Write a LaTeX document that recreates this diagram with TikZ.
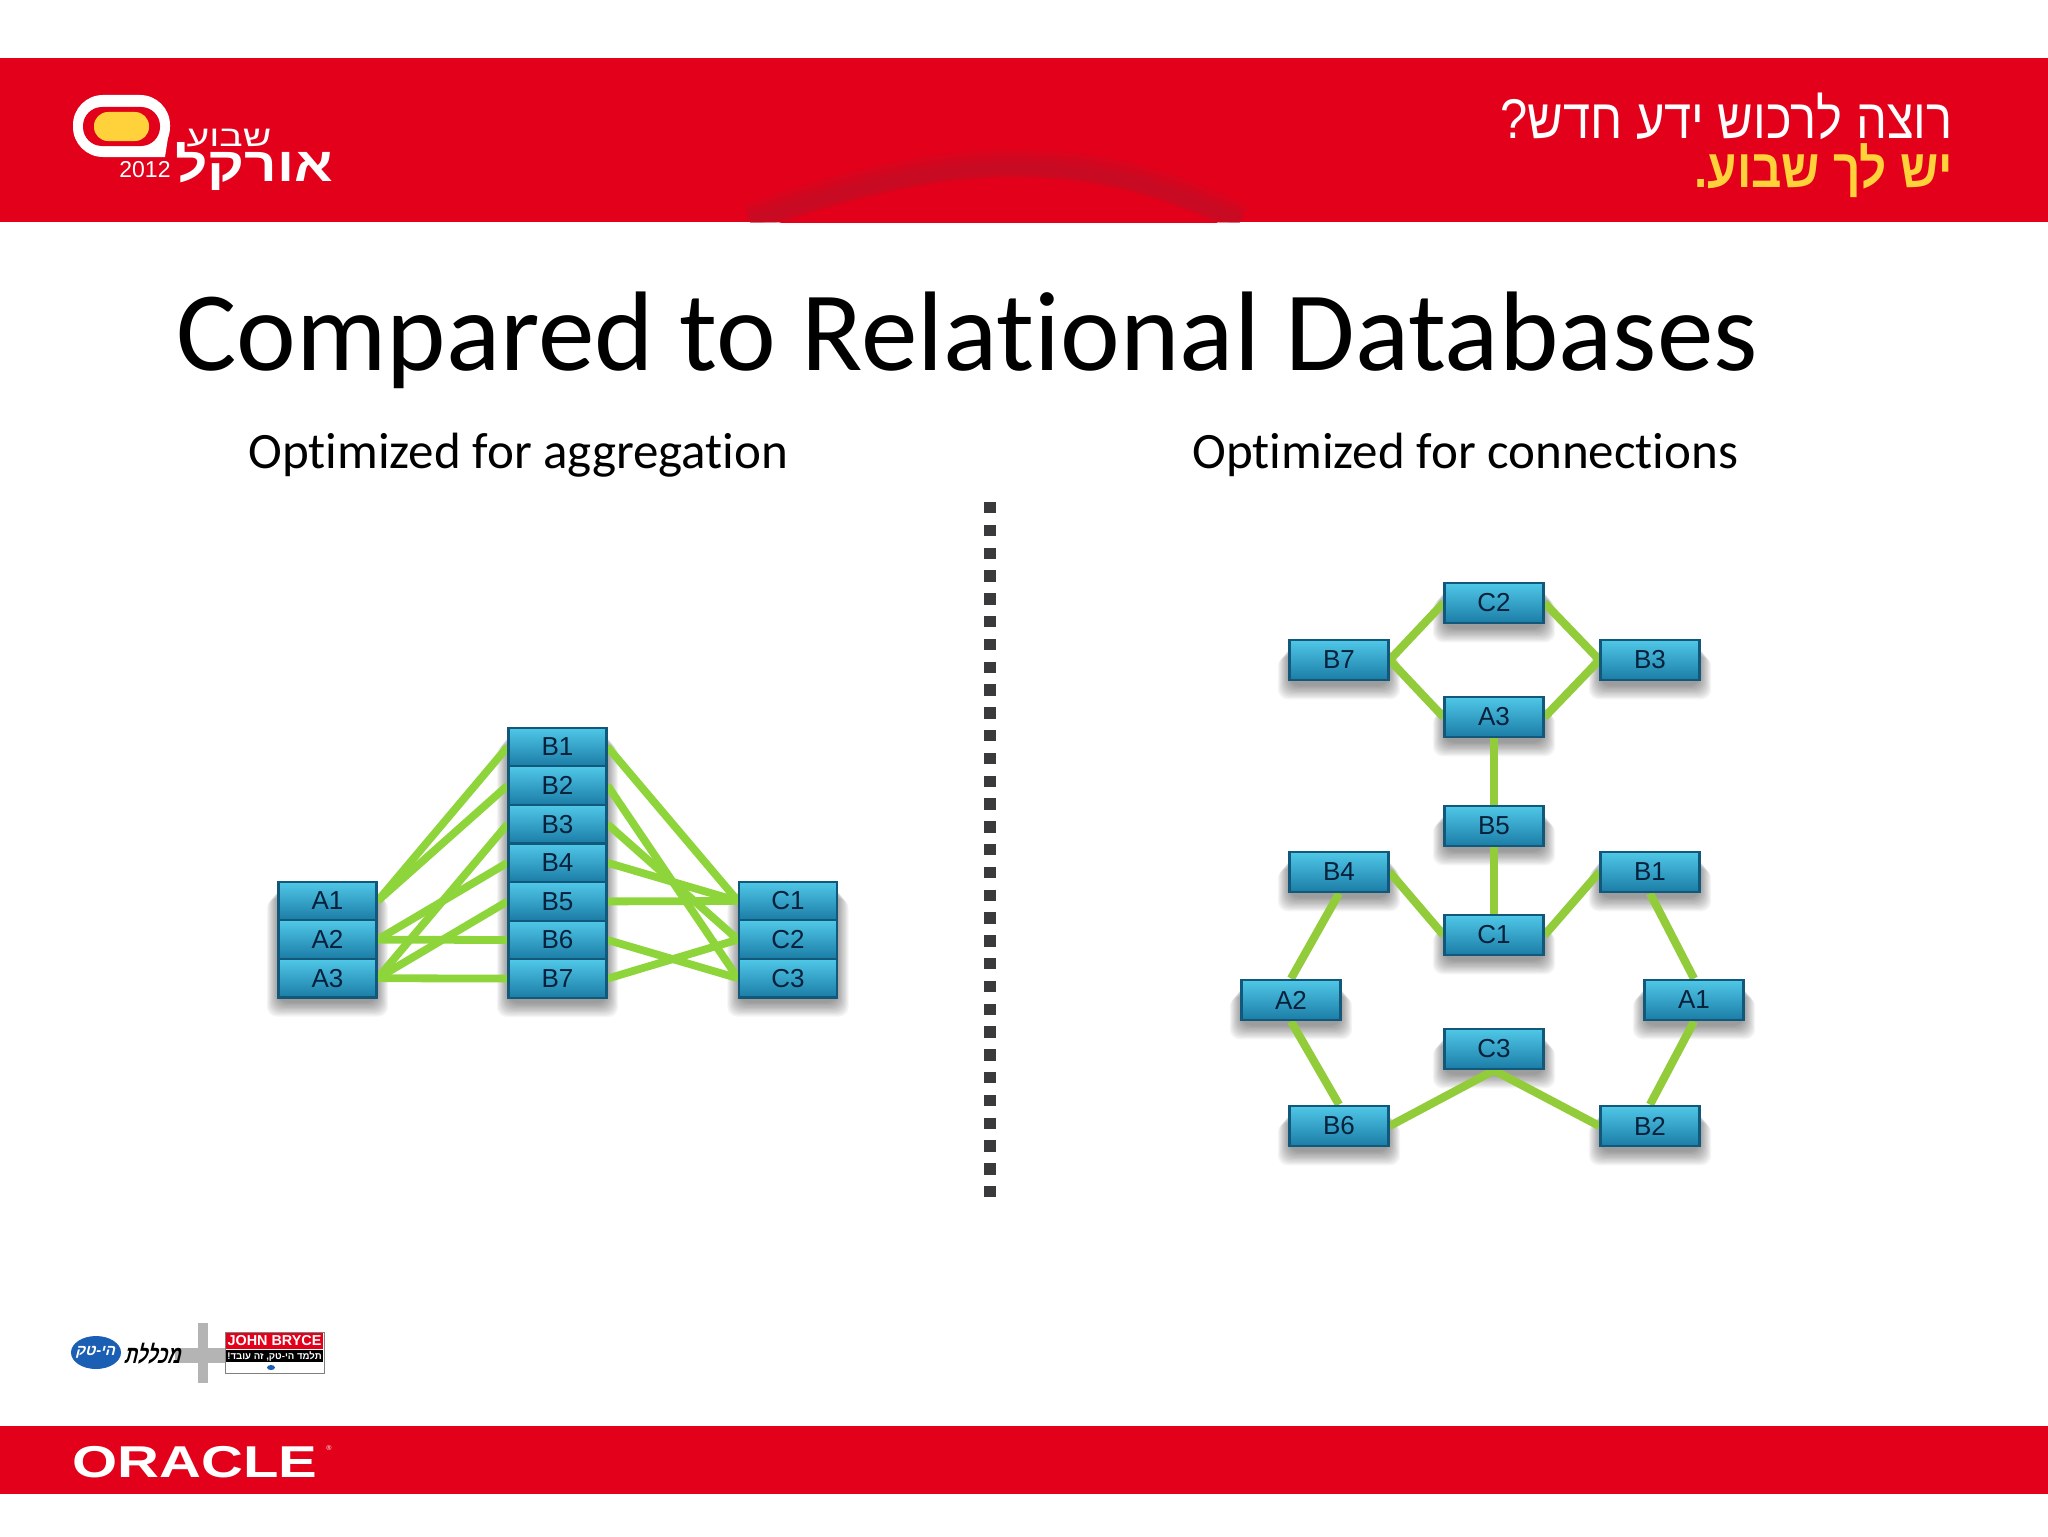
\documentclass[tikz,border=0pt]{standalone}
\usepackage{fontspec}
\setmainfont{Carlito}[Ligatures=NoCommon]
\newfontfamily\arial{Liberation Sans}
\newfontfamily\heb[Script=Hebrew]{Liberation Sans}
\TeXXeTstate=1
\usetikzlibrary{backgrounds}
\definecolor{bandred}{HTML}{E2001A}
\definecolor{swoosh}{HTML}{B8142A}
\definecolor{logoyellow}{HTML}{FFD23C}
\definecolor{boxtop}{HTML}{50C8E8}
\definecolor{boxbot}{HTML}{1B7CA6}
\definecolor{boxline}{HTML}{12587A}
\definecolor{boxtext}{HTML}{05213C}
\definecolor{linkL}{HTML}{8ED53C}
\definecolor{linkR}{HTML}{93CC3A}
\definecolor{crossgrey}{HTML}{B4B4B4}
\definecolor{hitblue}{HTML}{1A5FB4}
\definecolor{divcol}{HTML}{3A3A3C}
\pgfdeclarelayer{shadowlayer}
\pgfdeclarelayer{linklayer}
\pgfsetlayers{shadowlayer,linklayer,main}
\tikzset{
  dbbox/.style={draw=boxline,line width=1.1pt,top color=boxtop,bottom color=boxbot,
    text=boxtext,font=\arial\fontsize{13}{14}\selectfont,inner sep=0pt,
    minimum width=49.5pt},
  rowbox/.style={dbbox,minimum height=19.3pt,minimum width=49pt},
  freebox/.style={dbbox,minimum height=20.3pt},
  linkl/.style={draw=linkL,line width=3.9pt},
  linkr/.style={draw=linkR,line width=4.1pt},
  headtext/.style={font=\fontsize{56.6}{60}\selectfont,anchor=base west,inner sep=0pt},
  subtext/.style={font=\fontsize{25.5}{28}\selectfont,anchor=base west,inner sep=0pt},
  whitetext/.style={text=white,inner sep=0pt},
}
\newcommand{\softshadow}[2]{%
  \begin{pgfonlayer}{shadowlayer}
  \foreach \k in {1,...,12}{%
    \fill[black,opacity=.04,rounded corners=5pt]
      ([shift={(-\k*1.05+2,\k*1.25+3)}]#1.north west) rectangle ([shift={(\k*1.05-2,\k*1.25+3)}]#2.south east);
  }
  \end{pgfonlayer}}
\begin{document}
\begin{tikzpicture}[x=0.5pt,y=-0.5pt]
\useasboundingbox (0,0) rectangle (2048,1536);
% bands
\fill[bandred] (0,58) rectangle (2048,222);
\begin{scope}
\clip (0,58) rectangle (2048,222);
\foreach \w in {18,13,9,5}{
  \draw[swoosh,opacity=.2,line width=\w pt] (750,222) .. controls (840,190) and (930,168) .. (1012,168) .. controls (1110,168) and (1170,190) .. (1240,222);
}
\fill[bandred] (770,226) .. controls (860,195) and (940,177) .. (1012,177) .. controls (1100,177) and (1160,197) .. (1225,226) -- cycle;
\end{scope}
\fill[bandred] (0,1426) rectangle (2048,1494);
% event logo
\fill[white,rounded corners=15pt] (73,95) -- (170,95) -- (170,157) -- (73,157) -- cycle;
\fill[white] (140,135) -- (170,125) -- (165,157) -- (140,157) -- cycle;
\fill[bandred,rounded corners=9.5pt] (83,107) rectangle (160,146);
\fill[logoyellow,rounded corners=7pt] (94,112) rectangle (149,141);
\node[whitetext,anchor=base,xscale=1.35,font=\heb\fontsize{14.5}{16}\selectfont] (shavua) at (229,147) {\beginR שבוע\endR};
\node[whitetext,anchor=base,xscale=1.18,font=\heb\fontsize{24}{26}\selectfont\bfseries] (orcl) at (254,181) {\beginR אורקל\endR};
\node[whitetext,font=\arial\fontsize{11.5}{12}\selectfont] (yr) at (145,170) {2012};
% slogan
\node[whitetext,anchor=east,xscale=.873,font=\heb\fontsize{28}{30}\selectfont] (sl1) at (1953,116) {\beginR רוצה לרכוש ידע חדש?\endR};
\node[text=logoyellow,inner sep=0pt,anchor=east,xscale=.88,font=\heb\fontsize{27}{30}\selectfont\bfseries] (sl2) at (1953,171) {\beginR יש לך שבוע.\endR};
% title
\node[headtext] (title) at (176,370) {Compared to Relational Databases};
\node[subtext] (subl) at (248,468) {Optimized for aggregation};
\node[subtext] (subr) at (1192,468) {Optimized for connections};
% divider
\coordinate (divtop) at (990,502);
\coordinate (divbot) at (990,1197);
\draw[line width=5.6pt,draw=divcol,dash pattern=on 5.65pt off 5.75pt] (divtop) -- (divbot);
% left stacks
\foreach \n/\y in {A1/901,A2/939.6,A3/978.2}{\node[rowbox] (L\n) at (327.5,\y) {\n};}
\foreach \n/\y in {B1/747,B2/785.6,B3/824.2,B4/862.8,B5/901.4,B6/940,B7/978.6}{\node[rowbox] (L\n) at (557.5,\y) {\n};}
\foreach \n/\y in {C1/901,C2/939.6,C3/978.2}{\node[rowbox] (L\n) at (788,\y) {\n};}
\softshadow{LA1}{LA3}
\softshadow{LB1}{LB7}
\softshadow{LC1}{LC3}
\begin{pgfonlayer}{linklayer}
\draw[linkl] (LA1.east) -- (LB1.west);
\draw[linkl] (LA1.east) -- (LB2.west);
\draw[linkl] (LA2.east) -- (LB4.west);
\draw[linkl] (LA2.east) -- (LB6.west);
\draw[linkl] (LA3.east) -- (LB3.west);
\draw[linkl] (LA3.east) -- (LB5.west);
\draw[linkl] (LA3.east) -- (LB7.west);
\draw[linkl] (LB1.east) -- (LC1.west);
\draw[linkl] (LB4.east) -- (LC1.west);
\draw[linkl] (LB5.east) -- (LC1.west);
\draw[linkl] (LB3.east) -- (LC2.west);
\draw[linkl] (LB7.east) -- (LC2.west);
\draw[linkl] (LB2.east) -- (LC3.west);
\draw[linkl] (LB6.east) -- (LC3.west);
\end{pgfonlayer}
% right graph
\foreach \n/\x/\y in {C2/1494/603,B7/1339/660,B3/1650/660,A3/1494/717,B5/1494/826,B4/1339/872,B1/1650/872,C1/1494/935,A2/1291/1000,A1/1694/1000,C3/1494/1049,B6/1339/1126,B2/1650/1126}{
  \node[freebox] (R\n) at (\x,\y) {\n};
  \softshadow{R\n}{R\n}
}
\begin{pgfonlayer}{linklayer}
\draw[linkr] (RB7.east) -- (RC2.west);
\draw[linkr] (RC2.east) -- (RB3.west);
\draw[linkr] (RB7.east) -- (RA3.west);
\draw[linkr] (RA3.east) -- (RB3.west);
\draw[linkr] (RA3.south) -- (RB5.north);
\draw[linkr] (RB5.south) -- (RC1.north);
\draw[linkr] (RB4.east) -- (RC1.west);
\draw[linkr] (RC1.east) -- (RB1.west);
\draw[linkr] (RB4.south) -- (RA2.north);
\draw[linkr] (RA2.south) -- (RB6.north);
\draw[linkr] (RB6.east) -- (RC3.south);
\draw[linkr] (RC3.south) -- (RB2.west);
\draw[linkr] (RB1.south) -- (RA1.north);
\draw[linkr] (RA1.south) -- (RB2.north);
\end{pgfonlayer}
% college logos
\fill[crossgrey] (198,1323) rectangle (208,1383);
\fill[crossgrey] (175,1348) rectangle (228,1363);
\fill[hitblue] (96,1352.5) ellipse [x radius=25, y radius=16.5];
\node[whitetext,xslant=0.25,font=\heb\fontsize{7.5}{9}\selectfont\bfseries] (hitek) at (96,1352) {\beginR הי-טק\endR};
\node[inner sep=0pt,text=black,xslant=0.25,xscale=.73,font=\heb\fontsize{12.5}{14}\selectfont\bfseries] (mikhl) at (154.5,1354) {\beginR מכללת\endR};
\draw[draw=black!50,fill=white,line width=0.5pt] (225,1332) rectangle (324,1373);
\fill[bandred] (226,1333) rectangle (323,1349);
\fill[black] (226,1350) rectangle (323,1362);
\node[whitetext,font=\arial\fontsize{7.2}{8}\selectfont\bfseries] (jb) at (274.5,1341) {JOHN BRYCE};
\node[whitetext,font=\heb\fontsize{4.8}{6}\selectfont\bfseries] (jbs) at (274.5,1356) {\beginR תלמד הי-טק, זה עובד!\endR};
\fill[hitblue] (271,1367.5) ellipse [x radius=4, y radius=2.5];
% oracle
\node[whitetext,font=\arial\fontsize{22.3}{24}\selectfont\bfseries,xscale=1.3,anchor=base west] (orc) at (72,1477) {ORACLE};
\node[whitetext,font=\arial\fontsize{3.5}{4}\selectfont] (reg) at (329,1448) {®};
\end{tikzpicture}
\end{document}
